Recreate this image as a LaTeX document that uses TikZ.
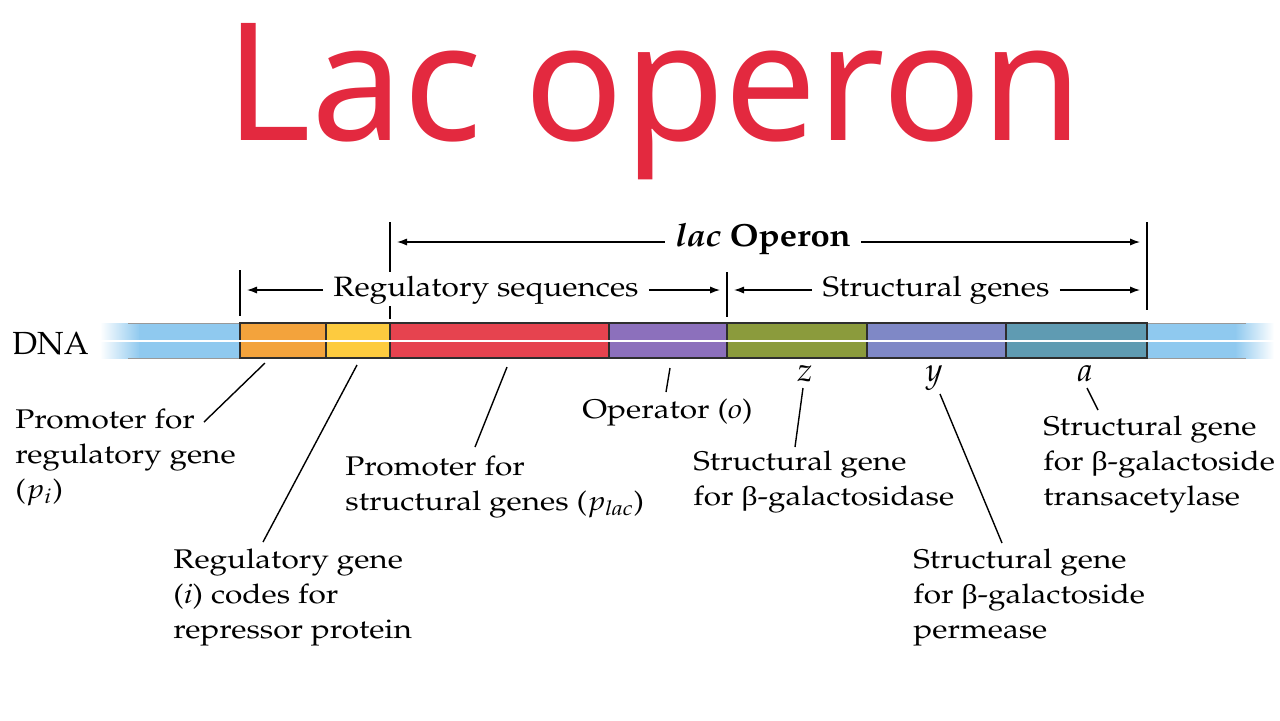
\documentclass[tikz,border=0pt]{standalone}
\usepackage{mathpazo}
\usepackage{graphicx}
\usepackage[no-math]{fontspec}
\usetikzlibrary{arrows.meta,positioning}
\newfontfamily\titlefont{Noto Sans}
\newfontfamily\grkfont{Liberation Serif}
\newcommand\pal{\fontencoding{OT1}\fontfamily{ppl}\selectfont}
\newcommand\bet{{\grkfont β}}
\newcommand\lines[2][1.17]{\scalebox{#1}[1]{\begin{tabular}[t]{@{}l@{}}#2\end{tabular}}}
\definecolor{titlered}{HTML}{E3293F}
\definecolor{dnablue}{HTML}{8FC9EF}
\definecolor{segline}{HTML}{2E2E2E}
\definecolor{pIcol}{HTML}{F3A33C}
\definecolor{iGcol}{HTML}{FDCB3F}
\definecolor{pLcol}{HTML}{E6434F}
\definecolor{opcol}{HTML}{8C70BC}
\definecolor{zGcol}{HTML}{8B9B3C}
\definecolor{yGcol}{HTML}{7F88C6}
\definecolor{aGcol}{HTML}{5F9BB2}
\tikzset{
  seg/.style={draw=segline,line width=.6pt,minimum height=17.5pt,inner sep=0pt},
  lbl/.style={font=\pal\fontsize{13.5}{17.5}\selectfont,anchor=base west,inner sep=0pt},
  gene/.style={font=\fontsize{16.5}{18}\selectfont,inner sep=1pt},
  brk/.style={font=\pal\fontsize{14}{16}\selectfont,inner sep=5pt},
  dimarr/.style={-{Latex[length=5pt,width=3.6pt]},line width=.65pt},
  tick/.style={line width=.65pt},
  leader/.style={line width=.7pt},
}

\begin{document}
\begin{tikzpicture}[x=.5pt,y=-.5pt]
			\useasboundingbox (0,0) rectangle (1280,720);
			\node[font=\titlefont\fontsize{82}{90}\selectfont,text=titlered,anchor=base] (title) at (654,140) {Lac operon};
			% DNA strand
			\node[font=\pal\fontsize{16}{18}\selectfont,anchor=base west,inner sep=0pt] (dna) at (12,354) {DNA};
			\shade[left color=white,right color=dnablue] (100,323) rectangle (140,358);
			\fill[dnablue] (139,323) rectangle (240,358);
			\fill[dnablue] (1147,323) rectangle (1236,358);
			\shade[left color=dnablue,right color=white] (1235,323) rectangle (1274,358);
			\draw[gray!80,line width=.5pt] (128,323) -- (240,323) (128,358) -- (240,358);
			\draw[gray!80,line width=.5pt] (1147,323) -- (1246,323) (1147,358) -- (1246,358);
			\node[seg,fill=pIcol,minimum width=43pt] (pI) at (283,340.5) {};
			\node[seg,fill=iGcol,minimum width=32pt] (iG) at (358,340.5) {};
			\node[seg,fill=pLcol,minimum width=109.5pt] (pL) at (499.5,340.5) {};
			\node[seg,fill=opcol,minimum width=59pt] (op) at (668,340.5) {};
			\node[seg,fill=zGcol,minimum width=70pt] (zG) at (797,340.5) {};
			\node[seg,fill=yGcol,minimum width=69.5pt] (yG) at (936.5,340.5) {};
			\node[seg,fill=aGcol,minimum width=70.5pt] (aG) at (1076.5,340.5) {};
			\draw[white,line width=1pt] (100,341) -- (1274,341);
			% brackets
			\draw[tick] (240,270) -- (240,316);
			\draw[tick] (390,222) -- (390,272);
			\draw[tick] (390,306) -- (390,319);
			\draw[tick] (727,272) -- (727,317);
			\draw[tick] (1147,222) -- (1147,310);
			\coordinate (opL) at (397,242);
			\coordinate (opR) at (1140,242);
			\coordinate (regL) at (247,290);
			\coordinate (regR) at (720,290);
			\coordinate (strL) at (734,290);
			\coordinate (strR) at (1140,290);
			\node[brk,font=\pal\bfseries\fontsize{16}{18}\selectfont] (opTxt) at (763,239) {\scalebox{1.08}[1]{\textit{lac} Operon}};
			\node[brk] (regTxt) at (486,290) {\scalebox{1.13}[1]{Regulatory sequences}};
			\node[brk] (strTxt) at (936,290) {\scalebox{1.13}[1]{Structural genes}};
			\draw[dimarr] (opTxt.west |- opL) -- (opL);
			\draw[dimarr] (opTxt.east |- opR) -- (opR);
			\draw[dimarr] (regTxt.west) -- (regL);
			\draw[dimarr] (regTxt.east) -- (regR);
			\draw[dimarr] (strTxt.west) -- (strL);
			\draw[dimarr] (strTxt.east) -- (strR);
			% gene letters
			\node[gene] (zLet) at (805,374) {$z$};
			\node[gene] (yLet) at (934,378) {$y$};
			\node[gene] (aLet) at (1085,374) {$a$};
			% labels
			\node[lbl] (piLbl) at (15,428) {\lines{Promoter for\\regulatory gene\\($p_i$)}};
			\node[lbl] (iLbl) at (173,568) {\lines{Regulatory gene\\(\textit{i}) codes for\\repressor protein}};
			\node[lbl] (plLbl) at (345,475) {\lines{Promoter for\\structural genes ($p_{\mathit{lac}}$)}};
			\node[lbl] (opLbl) at (582,418) {\lines{Operator (\textit{o})}};
			\node[lbl] (zTxt) at (693,470) {\lines{Structural gene\\for \bet-galactosidase}};
			\node[lbl] (yTxt) at (913,568) {\lines{Structural gene\\for \bet-galactoside\\permease}};
			\node[lbl] (aTxt) at (1043,435) {\lines{Structural gene\\for \bet-galactoside\\transacetylase}};
			% leaders
			\coordinate (piA) at (265,363);
			\coordinate (piB) at (204,422);
			\coordinate (iA) at (357,365);
			\coordinate (iB) at (263,542);
			\coordinate (plA) at (507,367);
			\coordinate (plB) at (475,447);
			\coordinate (opA) at (670,368);
			\coordinate (opB) at (666,392);
			\coordinate (zA) at (803,388);
			\coordinate (zB) at (795,447);
			\coordinate (yA) at (940,394);
			\coordinate (yB) at (1002,543);
			\coordinate (aA) at (1087,388);
			\coordinate (aB) at (1098,410);
			\draw[leader] (piA) -- (piB);
			\draw[leader] (iA) -- (iB);
			\draw[leader] (plA) -- (plB);
			\draw[leader] (opA) -- (opB);
			\draw[leader] (zA) -- (zB);
			\draw[leader] (yA) -- (yB);
			\draw[leader] (aA) -- (aB);
		\end{tikzpicture}
\end{document}
